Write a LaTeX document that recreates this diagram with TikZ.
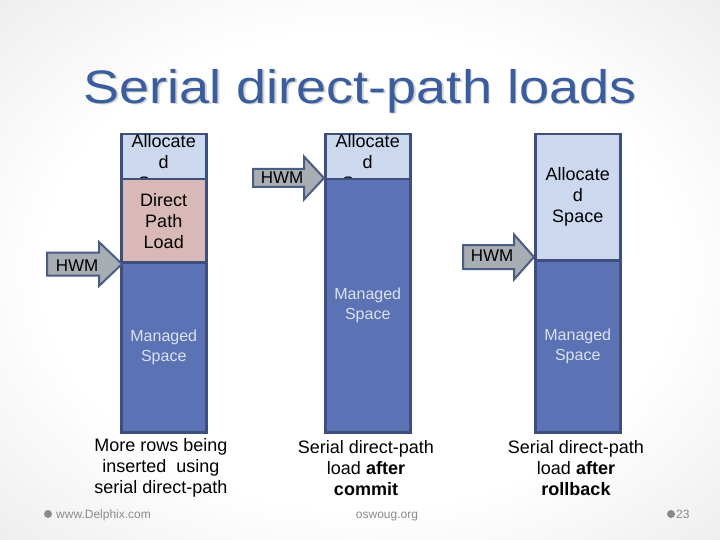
\documentclass[tikz,border=0pt]{standalone}
\usepackage{fontspec}
\setmainfont{Liberation Sans}
\definecolor{mgd}{HTML}{5B72B4}
\definecolor{alc}{HTML}{CBD8EE}
\definecolor{dpl}{HTML}{D9B8B8}
\definecolor{brd}{HTML}{3F4F7C}
\definecolor{arf}{HTML}{A7ADB2}
\definecolor{arb}{HTML}{4B5D84}
\definecolor{ttl}{HTML}{3A5D9E}
\definecolor{mtxt}{HTML}{DCE2EF}
\definecolor{foot}{HTML}{8A8A8A}
\pgfdeclareradialshading{bgshade}{\pgfpoint{0bp}{0bp}}{color(0bp)=(white); color(22bp)=(white); color(50bp)=(black!14); color(72bp)=(black!20)}
\begin{document}
\begin{tikzpicture}[x=1pt,y=-1pt,
  bar/.style={draw=brd, line width=2.5pt, rectangle, inner sep=0pt, anchor=north west,
    minimum width=85pt, align=center, font=\fontsize{18}{21}\selectfont, text=black},
  mgdbox/.style={bar, fill=mgd, text=mtxt, font=\fontsize{16}{20}\selectfont},
  hwm/.style={draw=arb, fill=arf, line width=2pt, line join=miter},
  hwmtext/.style={font=\fontsize{17}{20}\selectfont, inner sep=0pt},
  caption/.style={align=center, font=\fontsize{18}{21.3}\selectfont, inner sep=0pt},
  foottext/.style={text=foot, font=\fontsize{12}{14}\selectfont, inner sep=0pt, anchor=base},
  titletext/.style={font=\fontsize{47}{56}\selectfont, inner sep=0pt}]
\useasboundingbox (0,0) rectangle (720,540);
\shade[shading=bgshade] (0,0) rectangle (720,540);

% title
\node[titletext, text=black!17] (tshadow) at (361.5,92.5) {\scalebox{1.15}[1]{Serial direct-path loads}};
\node[titletext, text=ttl] (title) at (360,91) {\scalebox{1.15}[1]{Serial direct-path loads}};

% bar 1
\node[bar, fill=alc, minimum height=45pt] (a1) at (120,133) {Allocate\\d\\Space};
\node[bar, fill=dpl, minimum height=83pt] (d1) at (120,178) {Direct\\Path\\Load};
\node[mgdbox, minimum height=170pt] (m1) at (120,261) {Managed\\Space};

% bar 2
\node[bar, fill=alc, minimum height=45pt] (a2) at (324,133) {Allocate\\d\\Space};
\node[mgdbox, minimum height=253pt] (m2) at (324,178) {Managed\\Space};

% bar 3
\node[bar, fill=alc, minimum height=126pt] (a3) at (534,133) {Allocate\\d\\Space};
\node[mgdbox, minimum height=172pt] (m3) at (534,259) {Managed\\Space};

% HWM arrows
\coordinate (t1) at (122,264);
\draw[hwm] (t1) -- ++(-23,-22) -- ++(0,10.5) -- ++(-52,0) -- ++(0,23) -- ++(52,0) -- ++(0,10.5) -- cycle;
\node[hwmtext] (h1) at (77,266) {HWM};

\coordinate (t2) at (324,178);
\draw[hwm] (t2) -- ++(-20,-21.5) -- ++(0,12.5) -- ++(-51,0) -- ++(0,18) -- ++(51,0) -- ++(0,12.5) -- cycle;
\node[hwmtext] (h2) at (282,178) {HWM};

\coordinate (t3) at (534,257);
\draw[hwm] (t3) -- ++(-20,-22.5) -- ++(0,10.5) -- ++(-51,0) -- ++(0,24) -- ++(51,0) -- ++(0,10.5) -- cycle;
\node[hwmtext] (h3) at (492,256) {HWM};

% captions
\node[caption] (c1) at (161,468) {More rows being\\inserted\ \ using\\serial direct-path};
\node[caption] (c2) at (366,468) {Serial direct-path\\load \textbf{after}\\\textbf{commit}};
\node[caption] (c3) at (576,468) {Serial direct-path\\load \textbf{after}\\\textbf{rollback}};

% footer
\fill[foot] (48,514) circle (4);
\node[foottext, anchor=base west] (f1) at (56,518) {www.Delphix.com};
\node[foottext] (f2) at (387,518) {oswoug.org};
\fill[foot] (671,514) circle (4);
\node[foottext, anchor=base west] (f3) at (676,518) {23};
\end{tikzpicture}
\end{document}
